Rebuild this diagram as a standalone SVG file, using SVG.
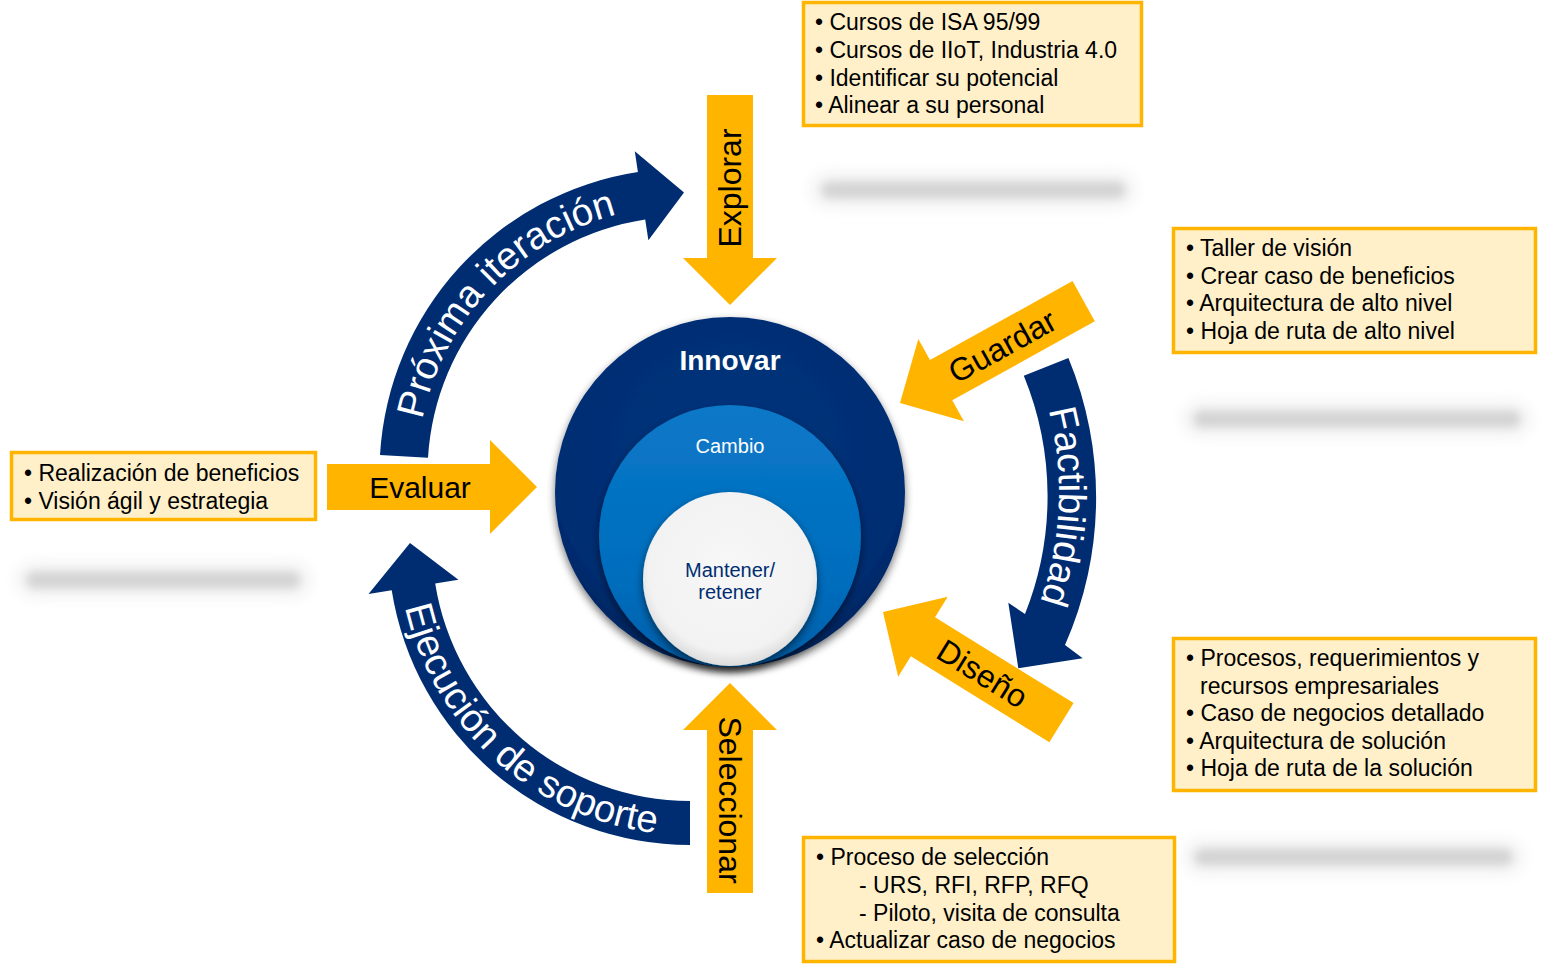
<svg xmlns="http://www.w3.org/2000/svg" width="1545" height="968" viewBox="0 0 1545 968">
<defs>
<style>
.box{fill:#FFF0C9;stroke:#FFB400;stroke-width:3.5}
.bt{font-family:"Liberation Sans",Arial,sans-serif;font-size:23px;fill:#000}
.ya{fill:#FFB400}
.yt{font-family:"Liberation Sans",Arial,sans-serif;font-size:32px;fill:#000;text-anchor:middle;dominant-baseline:central}
.na{fill:#002D72}
.nt{font-family:"Liberation Sans",Arial,sans-serif;font-size:38.5px;fill:#fff;text-anchor:middle}
.bar{fill:#d4d4d4}
.halo{fill:#efefef}
.ct{font-family:"Liberation Sans",Arial,sans-serif;text-anchor:middle}
</style>
<filter id="blur" x="-10%" y="-300%" width="120%" height="700%"><feGaussianBlur stdDeviation="4"/></filter>
<filter id="blur2" x="-10%" y="-300%" width="120%" height="700%"><feGaussianBlur stdDeviation="8"/></filter>
<filter id="sh" x="-20%" y="-20%" width="140%" height="150%"><feGaussianBlur in="SourceAlpha" stdDeviation="4"/><feOffset dy="4"/><feComponentTransfer><feFuncA type="linear" slope="0.55"/></feComponentTransfer><feMerge><feMergeNode/><feMergeNode in="SourceGraphic"/></feMerge></filter>
<radialGradient id="gOuter" cx="50%" cy="40%" r="60%"><stop offset="0" stop-color="#00347F"/><stop offset="0.85" stop-color="#002D72"/><stop offset="1" stop-color="#00245C"/></radialGradient>
<linearGradient id="gMid" x1="0" y1="0" x2="0" y2="1"><stop offset="0" stop-color="#0A78C8"/><stop offset="0.7" stop-color="#006CBC"/><stop offset="1" stop-color="#005EA8"/></linearGradient>
<radialGradient id="gIn" cx="50%" cy="45%" r="55%"><stop offset="0" stop-color="#F7F7F7"/><stop offset="0.85" stop-color="#F2F2F2"/><stop offset="1" stop-color="#DCDCDC"/></radialGradient>
<path id="arrow" d="M-210,-23 L-47,-23 L-47,-47 L0,0 L-47,47 L-47,23 L-210,23 Z"/>
<path id="p1" d="M418,449.7 A267,267 0 0 1 646.8,208.6" fill="none"/>
<path id="p2" d="M402.4,593.7 A292,292 0 0 0 669.6,834.3" fill="none"/>
<path id="p3" d="M1014.9,327.5 A329,329 0 0 1 999.5,680.7" fill="none"/>
</defs>
<rect width="1545" height="968" fill="#fff"/>

<g id="reflections">
<rect class="halo" x="812" y="174" width="322" height="32" rx="16" filter="url(#blur2)"/>
<rect class="bar" x="822" y="182" width="303" height="16" rx="8" filter="url(#blur)"/>
<rect class="halo" x="1184" y="403" width="346" height="32" rx="16" filter="url(#blur2)"/>
<rect class="bar" x="1194" y="411" width="326" height="16" rx="8" filter="url(#blur)"/>
<rect class="halo" x="1185" y="841" width="337" height="32" rx="16" filter="url(#blur2)"/>
<rect class="bar" x="1195" y="849" width="317" height="16" rx="8" filter="url(#blur)"/>
<rect class="halo" x="17" y="564" width="293" height="32" rx="16" filter="url(#blur2)"/>
<rect class="bar" x="27" y="572" width="273" height="16" rx="8" filter="url(#blur)"/>
</g>

<g id="center">
<circle cx="730" cy="492" r="175" fill="url(#gOuter)" filter="url(#sh)"/>
<circle cx="730" cy="536" r="131" fill="url(#gMid)" filter="url(#sh)"/>
<circle cx="730" cy="579" r="87" fill="url(#gIn)" filter="url(#sh)"/>
<text class="ct" x="730" y="370" font-size="28" font-weight="bold" fill="#fff">Innovar</text>
<text class="ct" x="730" y="453" font-size="20" fill="#fff">Cambio</text>
<text class="ct" x="730" y="577" font-size="20" fill="#002D72">Mantener/</text>
<text class="ct" x="730" y="599" font-size="20" fill="#002D72">retener</text>
</g>

<g id="connectors">
<g id="arc-proxima">
<path class="na" d="M380,454.9 A304.5,304.5 0 0 1 637.9,172 L634.8,151.3 L684,192.5 L648.4,240.2 L645.2,219.5 A256.5,256.5 0 0 0 428,457.8 Z"/>
<text class="nt"><textPath href="#p1" startOffset="50%">Próxima iteración</textPath></text>
</g>
<g id="arc-ejecucion">
<path class="na" d="M690,845 A302,302 0 0 1 391.7,590.2 L368.5,593.9 L410,543 L458.4,579.7 L435.2,583.4 A258,258 0 0 0 690,801 Z"/>
<text class="nt"><textPath href="#p2" startOffset="50%">Ejecución de soporte</textPath></text>
</g>
<g id="arc-factibilidad">
<path class="na" d="M1068.4,358 A365,365 0 0 1 1065,645 L1082.7,658.3 L1018.3,668.3 L1008.3,602.7 L1025,614 A318,318 0 0 0 1023.8,375.7 Z"/>
<text class="nt"><textPath href="#p3" startOffset="50%">Factibilidad</textPath></text>
</g>
<g id="arrow-explorar">
<use href="#arrow" class="ya" transform="translate(730,305) rotate(90)"/>
<text class="yt" transform="translate(730,188) rotate(-90)">Explorar</text>
</g>
<g id="arrow-seleccionar">
<use href="#arrow" class="ya" transform="translate(730,683) rotate(-90)"/>
<text class="yt" font-size="33" transform="translate(730,800) rotate(90)">Seleccionar</text>
</g>
<g id="arrow-evaluar">
<use href="#arrow" class="ya" transform="translate(537,487)"/>
<text class="yt" style="font-size:30px" x="420" y="487">Evaluar</text>
</g>
<g id="arrow-guardar">
<use href="#arrow" class="ya" transform="translate(900,403) rotate(151)"/>
<text class="yt" transform="translate(1002.3,346.3) rotate(-29)">Guardar</text>
</g>
<g id="arrow-diseno">
<use href="#arrow" class="ya" transform="translate(883,612) rotate(211.8)"/>
<text class="yt" transform="translate(982.4,673.7) rotate(31.8)">Diseño</text>
</g>
</g>

<g id="box-explorar">
<rect class="box" x="803.5" y="2.5" width="338" height="123"/>
<text class="bt" x="815" y="30">• Cursos de ISA 95/99</text>
<text class="bt" x="815" y="58">• Cursos de IIoT, Industria 4.0</text>
<text class="bt" x="815" y="86">• Identificar su potencial</text>
<text class="bt" x="815" y="113">• Alinear a su personal</text>
</g>

<g id="box-guardar">
<rect class="box" x="1173.5" y="228.5" width="362" height="124"/>
<text class="bt" x="1186" y="256">• Taller de visión</text>
<text class="bt" x="1186" y="283.5">• Crear caso de beneficios</text>
<text class="bt" x="1186" y="311">• Arquitectura de alto nivel</text>
<text class="bt" x="1186" y="338.5">• Hoja de ruta de alto nivel</text>
</g>

<g id="box-diseno">
<rect class="box" x="1173.5" y="638.5" width="362" height="152"/>
<text class="bt" x="1186" y="666">• Procesos, requerimientos y</text>
<text class="bt" x="1200" y="693.5">recursos empresariales</text>
<text class="bt" x="1186" y="721">• Caso de negocios detallado</text>
<text class="bt" x="1186" y="748.5">• Arquitectura de solución</text>
<text class="bt" x="1186" y="776">• Hoja de ruta de la solución</text>
</g>

<g id="box-seleccionar">
<rect class="box" x="803.5" y="837.5" width="371" height="124"/>
<text class="bt" x="816" y="865">• Proceso de selección</text>
<text class="bt" x="859" y="893">- URS, RFI, RFP, RFQ</text>
<text class="bt" x="859" y="920.5">- Piloto, visita de consulta</text>
<text class="bt" x="816" y="948">• Actualizar caso de negocios</text>
</g>

<g id="box-evaluar">
<rect class="box" x="11.5" y="452.5" width="304" height="67"/>
<text class="bt" x="24" y="481">• Realización de beneficios</text>
<text class="bt" x="24" y="509">• Visión ágil y estrategia</text>
</g>
</svg>
